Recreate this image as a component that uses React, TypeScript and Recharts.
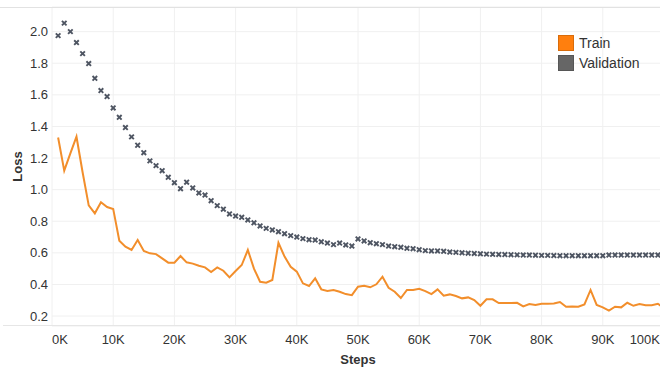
import React from 'react';
import { ComposedChart, Line, Scatter, XAxis, YAxis, CartesianGrid, Legend } from 'recharts';

// steps in thousands
const STEPS_K = [
  1, 2, 3, 4, 5, 6, 7, 8, 9, 10, 11, 12, 13, 14, 15, 16, 17, 18, 19, 20,
  21, 22, 23, 24, 25, 26, 27, 28, 29, 30, 31, 32, 33, 34, 35, 36, 37, 38, 39, 40,
  41, 42, 43, 44, 45, 46, 47, 48, 49, 50, 51, 52, 53, 54, 55, 56, 57, 58, 59, 60,
  61, 62, 63, 64, 65, 66, 67, 68, 69, 70, 71, 72, 73, 74, 75, 76, 77, 78, 79, 80,
  81, 82, 83, 84, 85, 86, 87, 88, 89, 90, 91, 92, 93, 94, 95, 96, 97, 98, 99, 100,
];

const TRAIN = [
  1.33, 1.12, 1.23, 1.335, 1.11, 0.9, 0.85, 0.92, 0.89, 0.878,
  0.677, 0.639, 0.618, 0.681, 0.612, 0.597, 0.592, 0.565, 0.538, 0.538,
  0.58, 0.54, 0.532, 0.518, 0.508, 0.479, 0.508, 0.487, 0.445, 0.485,
  0.523, 0.618, 0.5, 0.417, 0.411, 0.428, 0.664, 0.576, 0.512, 0.481,
  0.407, 0.39, 0.439, 0.369, 0.358, 0.365, 0.354, 0.339, 0.332, 0.386,
  0.392, 0.382, 0.401, 0.449, 0.379, 0.354, 0.314, 0.365, 0.365, 0.373,
  0.358, 0.339, 0.369, 0.329, 0.337, 0.327, 0.312, 0.318, 0.301, 0.265,
  0.306, 0.306, 0.282, 0.282, 0.282, 0.284, 0.261, 0.276, 0.27, 0.278,
  0.278, 0.28, 0.289, 0.259, 0.261, 0.259, 0.274, 0.365, 0.27, 0.255,
  0.234, 0.259, 0.255, 0.284, 0.265, 0.276, 0.268, 0.268, 0.278, 0.25,
];

const VALIDATION = [
  1.975, 2.054, 2.0, 1.931, 1.861, 1.798, 1.705, 1.627, 1.589, 1.517,
  1.458, 1.393, 1.334, 1.281, 1.234, 1.182, 1.152, 1.12, 1.078, 1.044,
  1.006, 1.047, 1.011, 0.979, 0.966, 0.93, 0.899, 0.876, 0.846, 0.833,
  0.825, 0.808, 0.79, 0.77, 0.755, 0.745, 0.734, 0.721, 0.709, 0.7,
  0.69, 0.683, 0.681, 0.67, 0.662, 0.652, 0.662, 0.65, 0.643, 0.688,
  0.675, 0.664, 0.658, 0.652, 0.643, 0.639, 0.635, 0.629, 0.626, 0.62,
  0.614, 0.612, 0.612, 0.61, 0.605, 0.603, 0.6, 0.598, 0.596, 0.594,
  0.592, 0.591, 0.59, 0.589, 0.588, 0.587, 0.586, 0.586, 0.585, 0.584,
  0.584, 0.583, 0.582, 0.582, 0.582, 0.582, 0.582, 0.582, 0.582, 0.582,
  0.586, 0.586, 0.586, 0.586, 0.586, 0.586, 0.586, 0.586, 0.586, null,
];

const X_TICKS = [0, 10000, 20000, 30000, 40000, 50000, 60000, 70000, 80000, 90000, 100000];
const Y_TICKS = [0.2, 0.4, 0.6, 0.8, 1.0, 1.2, 1.4, 1.6, 1.8, 2.0];

const SERIES_NAMES = ['Train', 'Validation'];
const SWATCHES = ['#ff7f0e', '#666666'];

const FONT = '"Liberation Sans", Arial, sans-serif';

const rows = STEPS_K.map((k, i) => ({
  step: k * 1000,
  train: TRAIN[i],
  val: VALIDATION[i],
}));

const XMark = (props: any) => {
  const { cx, cy } = props;
  if (cx == null || cy == null || isNaN(cy)) return null;
  const r = 2.3;
  return (
    <path
      d={`M${cx - r},${cy - r}L${cx + r},${cy + r}M${cx - r},${cy + r}L${cx + r},${cy - r}`}
      stroke="#4e5562"
      strokeWidth={1.9}
      fill="none"
    />
  );
};

const StepTick = (props: any) => {
  const { x, y, payload } = props;
  const v = payload.value;
  let anchor: 'start' | 'middle' | 'end' = 'middle';
  let tx = x;
  if (v === 0) anchor = 'start';
  if (x > 640) {
    anchor = 'end';
    tx = 660;
  }
  return (
    <text x={tx} y={y + 18} textAnchor={anchor} fontSize={13} fill="#333" fontFamily={FONT}>
      {`${v / 1000}K`}
    </text>
  );
};

const renderLegend = () => (
  <div style={{ fontFamily: FONT, fontSize: 14, color: '#333' }}>
    {SERIES_NAMES.map((name, i) => (
      <div key={name} style={{ display: 'flex', alignItems: 'center', height: 20 }}>
        <span
          style={{
            display: 'inline-block',
            width: 16,
            height: 16,
            boxSizing: 'border-box',
            background: SWATCHES[i],
            border: '1px solid rgba(0,0,0,0.15)',
            marginRight: 5,
          }}
        />
        {name}
      </div>
    ))}
  </div>
);

export default function App() {
  return (
    <div
      style={{
        position: 'absolute',
        left: 0,
        top: 0,
        width: 660,
        height: 370,
        overflow: 'hidden',
        background: '#fff',
        fontFamily: FONT,
      }}
    >
      <ComposedChart width={664} height={370} data={rows} margin={{ top: 7, right: 0, bottom: 0, left: 0 }}>
        <CartesianGrid stroke="#f0f0f0" />
        <XAxis
          dataKey="step"
          type="number"
          domain={[0, 100000]}
          ticks={X_TICKS}
          interval={0}
          height={44}
          axisLine={false}
          tickLine={false}
          tickSize={0}
          tickMargin={0}
          tick={<StepTick />}
          label={{
            value: 'Steps',
            position: 'insideBottom',
            offset: 6,
            style: { fontSize: 13, fontWeight: 'bold', fill: '#333', fontFamily: FONT },
          }}
        />
        <YAxis
          type="number"
          domain={[0.137, 2.156]}
          allowDataOverflow
          ticks={Y_TICKS}
          interval={0}
          width={52}
          axisLine={false}
          tickLine={false}
          tickSize={0}
          tickMargin={4}
          tickFormatter={(v: number) => v.toFixed(1)}
          tick={{ fontSize: 13, fill: '#333', fontFamily: FONT }}
          label={{
            value: 'Loss',
            angle: -90,
            position: 'insideLeft',
            offset: 17,
            style: { textAnchor: 'middle', fontSize: 13, fontWeight: 'bold', fill: '#333', fontFamily: FONT },
          }}
        />
        <Legend
          layout="vertical"
          align="center"
          verticalAlign="middle"
          content={renderLegend}
          wrapperStyle={{ left: 558, top: 33, width: 100, height: 40 }}
        />
        <Line
          dataKey="train"
          name="Train"
          stroke="#f28e2b"
          strokeWidth={2}
          dot={false}
          activeDot={false}
          isAnimationActive={false}
        />
        <Scatter dataKey="val" name="Validation" fill="#4e5562" shape={XMark} isAnimationActive={false} />
      </ComposedChart>
      <div style={{ position: 'absolute', left: 0, top: 7, width: 660, height: 1, background: '#e2e2e2' }} />
      <div style={{ position: 'absolute', left: 3, top: 325, width: 657, height: 1, background: '#e6e6e6' }} />
    </div>
  );
}
